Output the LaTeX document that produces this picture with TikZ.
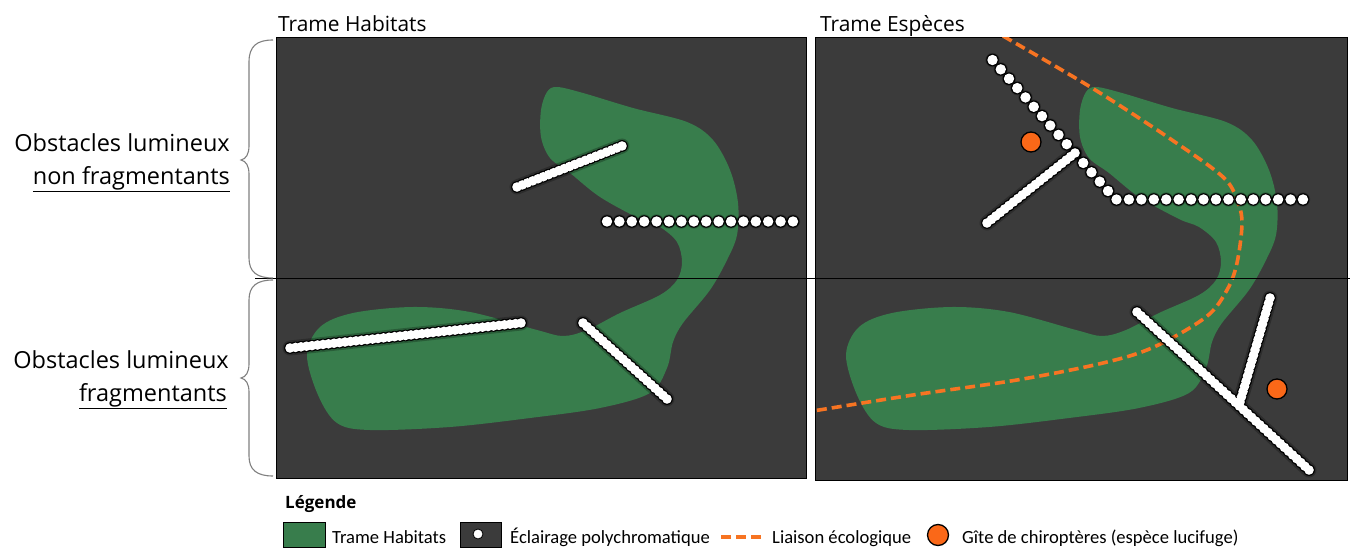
\documentclass[tikz,border=0pt]{standalone}
\usepackage{fontspec}
\setmainfont{Open Sans}
\newfontfamily\legfont{Carlito}
\usetikzlibrary{calc}
\definecolor{panelgray}{RGB}{59,59,59}
\definecolor{habitat}{RGB}{56,125,76}
\definecolor{liaison}{RGB}{247,116,34}
\definecolor{gite}{RGB}{250,104,24}
\definecolor{bracegray}{RGB}{128,128,128}
\tikzset{
  panel/.style={fill=panelgray, draw=black, line width=1pt},
  habitatfill/.style={fill=habitat},
  liaisonline/.style={draw=liaison, line width=3.6pt, dash pattern=on 10pt off 5pt},
  gitedot/.style={fill=gite, draw=black, line width=1.3pt},
  bracestyle/.style={draw=bracegray, line width=1.1pt},
  sepline/.style={draw=black, line width=0.8pt},
  glow/.style={draw=black, opacity=0.25, line width=15pt, line cap=round},
  titletext/.style={anchor=base west, inner sep=0pt, font=\fontsize{20.9}{25}\selectfont},
  rowlabel/.style={anchor=base east, inner sep=0pt, font=\fontsize{23.5}{28}\selectfont},
  legtext/.style={anchor=base west, inner sep=0pt, font=\legfont\fontsize{18.6}{21}\selectfont},
  legtitle/.style={anchor=base west, inner sep=0pt, font=\bfseries\fontsize{17}{20}\selectfont},
}
\newcommand\blobpath{plot[smooth cycle, tension=0.55] coordinates {
 (557,87) (583,93) (633,108) (687,122) (713,140) (730,170) (738,203) (737,235)
 (727,260) (710,290) (683,323) (673,342) (667,368) (650,393) (600,408) (530,418)
 (450,427) (370,430) (337,423) (318,395) (307,355) (320,327) (353,313) (413,307)
 (470,312) (537,330) (563,336) (587,330) (620,313) (660,295) (677,280) (682,262)
 (677,242) (660,227) (640,219) (600,197) (570,173) (550,158) (541,137) (541,110) (547,92)}}
% dense light line: #1,#2 end coordinates, #3 number of steps
\newcommand\lampglow[2]{\draw[glow] (#1) -- (#2);}
\newcommand\lampblack[3]{\foreach \i in {0,...,#3}{\fill[black] ($(#1)!{\i/#3}!(#2)$) circle[radius=5.9pt];}}
\newcommand\lampwhite[3]{\foreach \i in {0,...,#3}{\fill[white] ($(#1)!{\i/#3}!(#2)$) circle[radius=4.8pt];}}
\newcommand\lamprow[3]{\foreach \i in {0,...,#3}{%
  \fill[black, opacity=0.25] ($(#1)!{\i/#3}!(#2)$) circle[radius=7.2pt];
  \fill[black] ($(#1)!{\i/#3}!(#2)$) circle[radius=6.3pt];
  \fill[white] ($(#1)!{\i/#3}!(#2)$) circle[radius=5.2pt];}}
\begin{document}
\begin{tikzpicture}[x=1pt,y=-1pt]
\useasboundingbox (0,0) rectangle (1352,548);
\fill[white] (0,0) rectangle (1352,548);

% panels
\draw[panel] (276,38) rectangle (806,478);
\draw[panel] (815,38) rectangle (1347,480);

% habitat blobs
\begin{scope}
  \clip (276,38) rectangle (806,478);
  \fill[habitatfill] \blobpath;
\end{scope}
\begin{scope}
  \clip (815,38) rectangle (1347,480);
  \begin{scope}[xshift=539pt]
    \fill[habitatfill] \blobpath;
  \end{scope}
  \draw[liaisonline] plot[smooth, tension=0.55] coordinates {
    (1003,36) (1092,88) (1172,140) (1223,177) (1237,200) (1242,223) (1237,263)
    (1227,290) (1206,317) (1154,347) (1103,363) (1017,380) (913,395) (813,411)};
\end{scope}

% separation line and braces
\coordinate (braceA) at (273,40);
\coordinate (braceM) at (255,278);
\coordinate (lineEnd) at (1350,278);
\draw[sepline] (braceM) -- (lineEnd);
\draw[bracestyle] (braceA) .. controls (257,40) and (249,46) .. (249,62) -- (249,146)
   .. controls (249,154) and (246,159) .. (241,160) .. controls (246,161) and (249,166) .. (249,174)
   -- (249,258) .. controls (249,272) and (257,278) .. (273,278);
\draw[bracestyle] (273,280) .. controls (257,280) and (249,286) .. (249,300) -- (249,364)
   .. controls (249,372) and (246,377) .. (241,378) .. controls (246,379) and (249,384) .. (249,392)
   -- (249,456) .. controls (249,470) and (257,476) .. (273,476);

% left panel lights
\coordinate (la1) at (517,187); \coordinate (la2) at (622,146);
\coordinate (lb1) at (290,348); \coordinate (lb2) at (521,323);
\coordinate (lc1) at (583,323); \coordinate (lc2) at (667,399);
\coordinate (lr1) at (607,221.5); \coordinate (lr2) at (793,221.5);
\lampglow{la1}{la2}\lampblack{la1}{la2}{20}\lampwhite{la1}{la2}{20}
\lampglow{lb1}{lb2}\lampblack{lb1}{lb2}{42}\lampwhite{lb1}{lb2}{42}
\lampglow{lc1}{lc2}\lampblack{lc1}{lc2}{21}\lampwhite{lc1}{lc2}{21}
\lamprow{lr1}{lr2}{15}

% right panel lights
\coordinate (rd1) at (992.5,60); \coordinate (rd2) at (1108,191);
\coordinate (rr1) at (1116.5,199.5); \coordinate (rr2) at (1303,199.5);
\coordinate (ra1) at (987,223); \coordinate (ra2) at (1075,153);
\coordinate (rb1) at (1137,312); \coordinate (rb2) at (1309,470);
\coordinate (rc1) at (1270,298); \coordinate (rc2) at (1240,402);
\lamprow{rd1}{rd2}{14}
\lamprow{rr1}{rr2}{15}
\lampglow{ra1}{ra2}\lampblack{ra1}{ra2}{20}\lampwhite{ra1}{ra2}{20}
\lampglow{rb1}{rb2}\lampglow{rc1}{rc2}
\lampblack{rb1}{rb2}{42}\lampblack{rc1}{rc2}{20}
\lampwhite{rb1}{rb2}{42}\lampwhite{rc1}{rc2}{20}

% roosts
\node[gitedot, circle, minimum size=20pt, inner sep=0pt] (gite1) at (1031,142) {};
\node[gitedot, circle, minimum size=20pt, inner sep=0pt] (gite2) at (1277,389) {};

% titles
\node[titletext] (th) at (278,31.5) {Trame Habitats};
\node[titletext] (te) at (820,31.5) {Trame Espèces};

% row labels
\node[rowlabel] (l1a) at (230,151.5) {Obstacles lumineux};
\node[rowlabel] (l1b) at (230,184.5) {\underline{non fragmentants}};
\node[rowlabel] (l2a) at (229,368.5) {Obstacles lumineux};
\node[rowlabel] (l2b) at (227,401.5) {\underline{fragmentants}};

% legend
\node[legtitle] (legt) at (285,508) {Légende};
\node[draw=black, line width=0.8pt, fill=habitat, minimum width=42pt, minimum height=25pt, inner sep=0pt] (k1) at (304,535) {};
\node[legtext] (t1) at (332,543) {Trame Habitats};
\node[draw=black, line width=0.8pt, fill=panelgray, minimum width=41pt, minimum height=25pt, inner sep=0pt] (k2) at (480.5,535) {};
\node[circle, fill=white, draw=black, line width=0.8pt, minimum size=10pt, inner sep=0pt] (k2dot) at (478,534) {};
\node[legtext] (t2) at (510,543) {Éclairage polychromatique};
\coordinate (k3a) at (721,537); \coordinate (k3b) at (765,537);
\draw[liaisonline] (k3a) -- (k3b);
\node[legtext] (t3) at (772,543) {Liaison écologique};
\node[gitedot, circle, minimum size=21pt, inner sep=0pt] (k4) at (938,535) {};
\node[legtext] (t4) at (962,543) {Gîte de chiroptères (espèce lucifuge)};
\end{tikzpicture}
\end{document}
